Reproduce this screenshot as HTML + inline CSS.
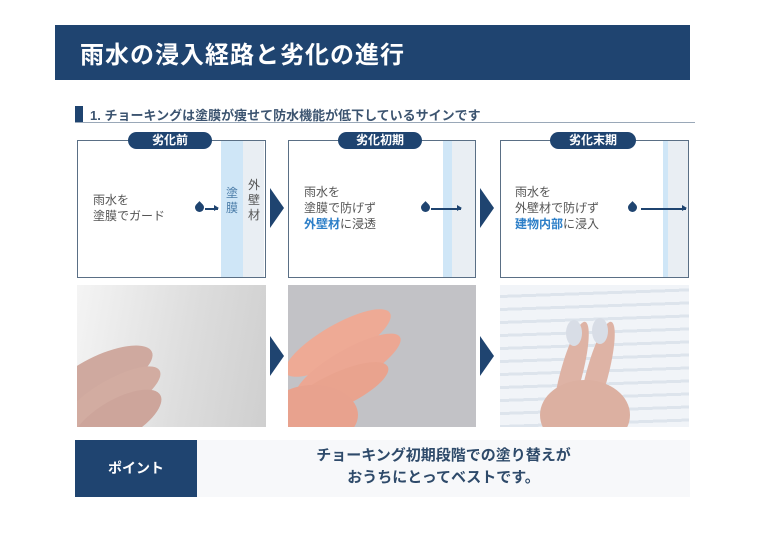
<!DOCTYPE html>
<html><head><meta charset="utf-8"><style>
*{margin:0;padding:0;box-sizing:border-box}
body{width:768px;height:543px;background:#fff;position:relative;overflow:hidden;font-family:"Liberation Sans","Noto Sans CJK JP",sans-serif;color:#444}
.a{position:absolute}
.box{position:absolute;top:140px;height:138px;border:1.5px solid #5a6f85;background:#fff}
.pill{position:absolute;top:132px;height:17px;background:#1f4470;color:#fff;font-size:12px;border-radius:9px;text-align:center;line-height:17px;font-weight:bold}
.txt{position:absolute;font-size:12px;line-height:16px;color:#555}
.blue{color:#2d7fc8;font-weight:bold}
.drop{position:absolute;width:9px;height:9px;background:#1f4470;border-radius:50% 0 50% 50%;transform:rotate(-45deg)}
.ar{position:absolute;height:1.5px;background:#1f4470}
.ar:after{content:"";position:absolute;right:-1px;top:-3px;border-left:5px solid #1f4470;border-top:3.5px solid transparent;border-bottom:3.5px solid transparent}
.chev{position:absolute;width:0;height:0;border-left:14px solid #1f4470;border-top:20px solid transparent;border-bottom:20px solid transparent}
.photo{position:absolute;top:285px;height:142px;overflow:hidden}
.sk{position:absolute;border-radius:50%}
</style></head><body>
<div class="a" style="left:55px;top:25px;width:635px;height:55px;background:#1f4470"></div>
<div class="a" style="left:80px;top:35px;color:#fff;font-size:24px;font-weight:bold;letter-spacing:1px">雨水の浸入経路と劣化の進行</div>
<div class="a" style="left:75px;top:106px;width:8px;height:16px;background:#1f4470"></div>
<div class="a" style="left:90px;top:105px;font-size:13px;font-weight:bold;color:#3c5470">1. チョーキングは塗膜が痩せて防水機能が低下しているサインです</div>
<div class="a" style="left:75px;top:122px;width:620px;height:1px;background:#9aa8b8"></div>

<div class="box" style="left:77px;width:189px"></div>
<div class="a" style="left:221px;top:141px;width:22px;height:136px;background:#cfe6f7"></div>
<div class="a" style="left:243px;top:141px;width:21px;height:136px;background:#e9eef3"></div>
<div class="pill" style="left:128px;width:84px">劣化前</div>
<div class="txt" style="left:93px;top:192px">雨水を<br>塗膜でガード</div>
<div class="drop" style="left:195px;top:203px"></div><div class="ar" style="left:205px;top:208px;width:13px"></div>
<div class="txt" style="left:226px;top:186px;width:12px;line-height:15px;color:#4a7ca8">塗<br>膜</div>
<div class="txt" style="left:248px;top:178px;width:12px;line-height:15px">外<br>壁<br>材</div>
<div class="chev" style="left:270px;top:188px"></div>

<div class="box" style="left:288px;width:188px"></div>
<div class="a" style="left:443px;top:141px;width:9px;height:136px;background:#cfe6f7"></div>
<div class="a" style="left:452px;top:141px;width:23px;height:136px;background:#e9eef3"></div>
<div class="pill" style="left:338px;width:84px">劣化初期</div>
<div class="txt" style="left:304px;top:184px">雨水を<br>塗膜で防げず<br><span class="blue">外壁材</span>に浸透</div>
<div class="drop" style="left:421px;top:203px"></div><div class="ar" style="left:431px;top:208px;width:30px"></div>
<div class="chev" style="left:480px;top:188px"></div>

<div class="box" style="left:500px;width:189px"></div>
<div class="a" style="left:663px;top:141px;width:5px;height:136px;background:#cfe6f7"></div>
<div class="a" style="left:668px;top:141px;width:20px;height:136px;background:#e9eef3"></div>
<div class="pill" style="left:550px;width:86px">劣化末期</div>
<div class="txt" style="left:515px;top:184px">雨水を<br>外壁材で防げず<br><span class="blue">建物内部</span>に浸入</div>
<div class="drop" style="left:628px;top:203px"></div><div class="ar" style="left:641px;top:208px;width:45px"></div>

<div class="photo" style="left:77px;width:189px;background:linear-gradient(100deg,#f4f4f4,#dcdcdc 60%,#cfcfcf)">
 <div class="sk" style="left:-30px;top:70px;width:110px;height:40px;background:#cfa99f;transform:rotate(-25deg)"></div>
 <div class="sk" style="left:-20px;top:95px;width:110px;height:36px;background:#d2aca1;transform:rotate(-30deg)"></div>
 <div class="sk" style="left:-10px;top:115px;width:100px;height:40px;background:#cda59b;transform:rotate(-30deg)"></div>
</div>
<div class="chev" style="left:270px;top:336px"></div>
<div class="photo" style="left:288px;width:188px;background:#c2c2c6">
 <div class="sk" style="left:-10px;top:40px;width:120px;height:36px;background:#eeaa95;transform:rotate(-30deg)"></div>
 <div class="sk" style="left:0px;top:65px;width:120px;height:34px;background:#eca793;transform:rotate(-30deg)"></div>
 <div class="sk" style="left:-5px;top:88px;width:110px;height:34px;background:#e9a38e;transform:rotate(-25deg)"></div>
 <div class="sk" style="left:-20px;top:100px;width:90px;height:60px;background:#e8a28e"></div>
</div>
<div class="chev" style="left:480px;top:336px"></div>
<div class="photo" style="left:500px;width:189px;background:repeating-linear-gradient(178deg,#f1f4f8 0 10px,#dde4ec 10px 13px)">
 <div class="sk" style="left:60px;top:35px;width:22px;height:110px;background:#deb3a5;transform:rotate(15deg)"></div>
 <div class="sk" style="left:86px;top:35px;width:22px;height:110px;background:#deb3a5;transform:rotate(15deg)"></div>
 <div class="sk" style="left:66px;top:35px;width:16px;height:26px;background:#d8dde6"></div>
 <div class="sk" style="left:92px;top:33px;width:16px;height:26px;background:#d8dde6"></div>
 <div class="sk" style="left:40px;top:95px;width:90px;height:70px;background:#dcb0a1"></div>
</div>

<div class="a" style="left:75px;top:440px;width:122px;height:57px;background:#1f4470;color:#fff;font-size:14px;font-weight:bold;text-align:center;line-height:57px">ポイント</div>
<div class="a" style="left:197px;top:440px;width:493px;height:57px;background:#f7f8fa"></div>
<div class="a" style="left:197px;top:445px;width:493px;text-align:center;font-size:15px;font-weight:bold;line-height:22px;color:#2e4a6a">チョーキング初期段階での塗り替えが<br>おうちにとってベストです。</div>
</body></html>
